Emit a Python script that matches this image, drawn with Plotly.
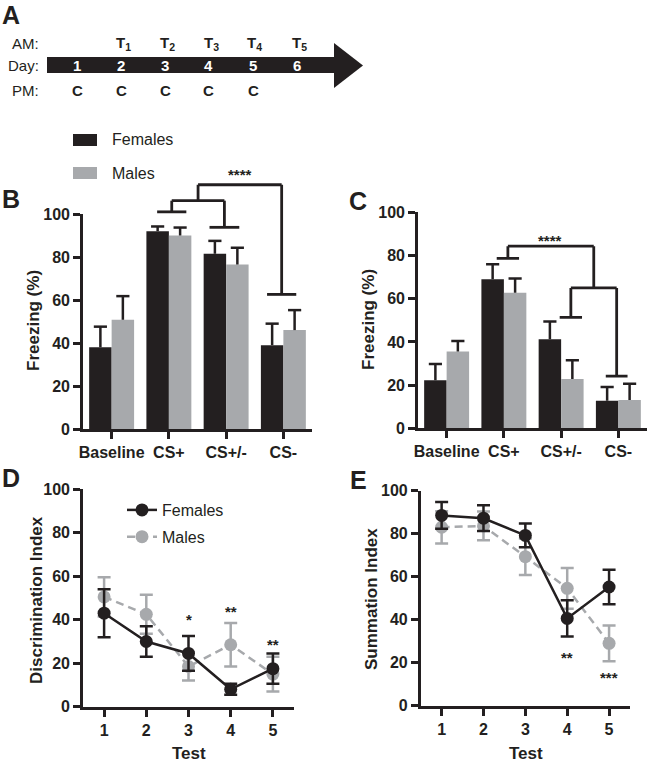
import plotly.graph_objects as go

W, H = 649, 762
BLACK = "#231f20"
GRAY = "#a7a9ac"
FONT = "Arial"

# ---------------- data ----------------
# Panel A timeline
days = [1, 2, 3, 4, 5, 6]
am_tests = [None, 1, 2, 3, 4, 5]
pm_cond = ["C", "C", "C", "C", "C", ""]

# Panels B / C (bar charts)
categories = ["Baseline", "CS+", "CS+/-", "CS-"]
b_fem = [38.0, 92.0, 81.5, 39.0]
b_fem_err = [9.6, 2.2, 6.0, 10.0]
b_male = [50.8, 90.0, 76.5, 46.0]
b_male_err = [11.0, 3.7, 7.8, 9.3]

c_fem = [22.2, 69.0, 41.2, 12.8]
c_fem_err = [7.6, 7.0, 8.2, 6.3]
c_male = [35.6, 62.8, 22.8, 13.1]
c_male_err = [4.8, 6.6, 8.7, 7.5]

# Panels D / E (line charts)
tests = [1, 2, 3, 4, 5]
d_fem = [43.0, 30.0, 24.5, 8.0, 17.5]
d_fem_err = [11.0, 7.0, 8.0, 2.5, 7.0]
d_male = [50.5, 42.5, 18.5, 28.5, 15.0]
d_male_err = [9.0, 9.0, 6.5, 10.0, 8.0]
d_stars = [(3, 41.4, "*"), (4, 45.2, "**"), (5, 30.2, "**")]

e_fem = [88.5, 87.2, 79.2, 40.6, 55.2]
e_fem_err = [6.2, 6.0, 5.5, 8.4, 8.0]
e_male = [83.0, 83.6, 69.3, 54.6, 29.0]
e_male_err = [7.5, 6.7, 8.5, 9.5, 8.3]
e_stars = [(4, 23.6, "**"), (5, 14.3, "***")]

# significance brackets (x in category units, y in % units)
# (x_left, x_right, y_top, y_left_bottom, y_right_bottom, cap_left_halfwidth, cap_right_halfwidth)
b_brackets = [
    (1.05, 1.97, 106.2, 101.0, 93.8, 0.255, 0.26),
    (1.51, 2.97, 113.6, 106.2, 62.6, 0.0, 0.255),
]
b_star = (2.25, 120.0, "****")
c_brackets = [
    (1.07, 2.57, 84.3, 78.7, 65.0, 0.195, 0.0),
    (2.17, 2.97, 65.0, 51.4, 24.2, 0.195, 0.19),
]
c_star = (1.80, 88.2, "****")

# ---------------- helpers ----------------
def px(x):
    return x / W


def py(y):
    return 1 - y / H


BAR_W = 0.3925
CAP = 0.115
idx = list(range(len(categories)))

fig = go.Figure()


def add_bars(xa, ya, fem, fem_err, male, male_err):
    fig.add_trace(go.Bar(x=idx, y=fem, width=BAR_W, offset=-BAR_W, marker=dict(color=BLACK, line=dict(width=0)),
                         xaxis=xa, yaxis=ya, showlegend=False, hoverinfo="skip"))
    fig.add_trace(go.Bar(x=idx, y=male, width=BAR_W, offset=0, marker=dict(color=GRAY, line=dict(width=0)),
                         xaxis=xa, yaxis=ya, showlegend=False, hoverinfo="skip"))
    xs, ys = [], []
    for i in idx:
        for xc, v, e in ((i - BAR_W / 2, fem[i], fem_err[i]), (i + BAR_W / 2, male[i], male_err[i])):
            xs += [xc, xc, None, xc - CAP, xc + CAP, None]
            ys += [v, v + e, None, v + e, v + e, None]
    fig.add_trace(go.Scatter(x=xs, y=ys, mode="lines", line=dict(color=BLACK, width=2.5),
                             xaxis=xa, yaxis=ya, showlegend=False, hoverinfo="skip", cliponaxis=False))


add_bars("x", "y", b_fem, b_fem_err, b_male, b_male_err)
add_bars("x2", "y2", c_fem, c_fem_err, c_male, c_male_err)


def add_lines(xa, ya, fem, fem_err, male, male_err, legend):
    fig.add_trace(go.Scatter(x=tests, y=male, mode="lines+markers", name="Males",
                             line=dict(color=GRAY, width=2.5, dash="8px,5px"),
                             marker=dict(size=13, color=GRAY),
                             error_y=dict(type="data", array=male_err, color=GRAY, thickness=2.5, width=6.5),
                             xaxis=xa, yaxis=ya, showlegend=legend, legendrank=2, legendgroup="m",
                             cliponaxis=False))
    fig.add_trace(go.Scatter(x=tests, y=fem, mode="lines+markers", name="Females",
                             line=dict(color=BLACK, width=2.5),
                             marker=dict(size=13, color=BLACK),
                             error_y=dict(type="data", array=fem_err, color=BLACK, thickness=2.5, width=6.5),
                             xaxis=xa, yaxis=ya, showlegend=legend, legendrank=1, legendgroup="f",
                             cliponaxis=False))


add_lines("x3", "y3", d_fem, d_fem_err, d_male, d_male_err, True)
add_lines("x4", "y4", e_fem, e_fem_err, e_male, e_male_err, False)

shapes = []
annotations = []

LW = 2.8


def seg(xref, yref, x0, y0, x1, y1, w=LW):
    shapes.append(dict(type="line", xref=xref, yref=yref, x0=x0, y0=y0, x1=x1, y1=y1,
                       line=dict(color=BLACK, width=w)))


def draw_brackets(brs, xref, yref, yconv):
    for xl, xr, yt, ylb, yrb, capl, capr in brs:
        seg(xref, yref, xl, yconv(ylb), xl, yconv(yt))
        seg(xref, yref, xl, yconv(yt), xr, yconv(yt))
        seg(xref, yref, xr, yconv(yt), xr, yconv(yrb))
        if capl:
            seg(xref, yref, xl - capl, yconv(ylb), xl + capl, yconv(ylb))
        if capr:
            seg(xref, yref, xr - capr, yconv(yrb), xr + capr, yconv(yrb))


B_YMAX = 100.0
draw_brackets(b_brackets, "x", "y domain", lambda v: v / B_YMAX)
draw_brackets(c_brackets, "x2", "y2", lambda v: v)


def bold(size, color=BLACK):
    return dict(family=FONT, size=size, color=color, weight="bold")


def ann(**kw):
    base = dict(showarrow=False, xanchor="center", yanchor="middle")
    base.update(kw)
    annotations.append(base)


ann(x=b_star[0], y=b_star[1] / B_YMAX, xref="x", yref="y domain", text=b_star[2], font=bold(15), yshift=-3)
ann(x=c_star[0], y=c_star[1], xref="x2", yref="y2", text=c_star[2], font=bold(15), yshift=-3)
for xv, yv, t in d_stars:
    ann(x=xv, y=yv, xref="x3", yref="y3", text=t, font=bold(15), yshift=-3)
for xv, yv, t in e_stars:
    ann(x=xv, y=yv, xref="x4", yref="y4", text=t, font=bold(15), yshift=-3)

# ---------------- panel A: timeline ----------------
shapes.append(dict(type="rect", xref="paper", yref="paper", x0=px(47), x1=px(335), y0=py(73), y1=py(57),
                   fillcolor=BLACK, line=dict(width=0), layer="below"))
shapes.append(dict(type="path", xref="paper", yref="paper",
                   path=f"M {px(334)},{py(43)} L {px(363)},{py(65.5)} L {px(334)},{py(88)} Z",
                   fillcolor=BLACK, line=dict(width=0), layer="below"))
for lab, yy in (("AM:", 43), ("Day:", 65), ("PM:", 90)):
    ann(x=px(41), y=py(yy), xref="paper", yref="paper", text=lab, xanchor="right",
        font=dict(family=FONT, size=15, color=BLACK))
for d, t, c in zip(days, am_tests, pm_cond):
    xc = 77 + 44 * (d - 1)
    ann(x=px(xc), y=py(65), xref="paper", yref="paper", text=str(d), font=bold(15, "#ffffff"))
    if t is not None:
        ann(x=px(xc + 2), y=py(44), xref="paper", yref="paper", text=f"T<sub>{t}</sub>", font=bold(15))
    if c:
        ann(x=px(xc), y=py(90), xref="paper", yref="paper", text=c, font=bold(15))

# ---------------- panel letters ----------------
for lab, xx, yy in (("A", 11, 15), ("B", 11, 199), ("C", 358, 201), ("D", 11, 478), ("E", 358, 480)):
    ann(x=px(xx), y=py(yy), xref="paper", yref="paper", text=lab, font=bold(25))

# ---------------- B legend (manual) ----------------
for lab, col, yy in (("Females", BLACK, 140), ("Males", GRAY, 173)):
    shapes.append(dict(type="rect", xref="paper", yref="paper", x0=px(73), x1=px(97), y0=py(yy + 6),
                       y1=py(yy - 6), fillcolor=col, line=dict(width=0)))
    ann(x=px(110), y=py(yy), xref="paper", yref="paper", text=lab, xanchor="left",
        font=dict(family=FONT, size=16, color=BLACK))

# ---------------- axis titles ----------------
for lab, xx, yy in (("Freezing (%)", 34, 321), ("Freezing (%)", 368, 320),
                    ("Discrimination Index", 36, 600), ("Summation Index", 371, 599)):
    ann(x=px(xx), y=py(yy), xref="paper", yref="paper", text=lab, textangle=-90, font=bold(17))
for xx in (188.5, 525.5):
    ann(x=px(xx), y=py(753), xref="paper", yref="paper", text="Test", font=bold(17))

tickfont = bold(16)
axis_common = dict(showline=True, linewidth=2.6, linecolor=BLACK, ticks="outside", ticklen=7, tickwidth=2.6,
                   tickcolor=BLACK, showgrid=False, zeroline=False, tickfont=tickfont, fixedrange=True,
                   automargin=False)

yticks = [0, 20, 40, 60, 80, 100]

fig.update_layout(
    template="none",
    width=W, height=H, autosize=False,
    margin=dict(l=0, r=0, t=0, b=0, pad=0, autoexpand=False),
    paper_bgcolor="white", plot_bgcolor="white",
    barmode="overlay",
    shapes=shapes, annotations=annotations,
    xaxis=dict(domain=[px(83), px(312)], range=[-0.5, 3.5], tickvals=idx, ticktext=categories, anchor="y",
               **axis_common),
    yaxis=dict(domain=[py(429), py(214)], range=[0, B_YMAX], tickvals=yticks, anchor="x", **axis_common),
    xaxis2=dict(domain=[px(418), px(647)], range=[-0.5, 3.5], tickvals=idx, ticktext=categories, anchor="y2",
                **axis_common),
    yaxis2=dict(domain=[py(428.3), py(212.3)], range=[0, 100], tickvals=yticks, anchor="x2", **axis_common),
    xaxis3=dict(domain=[px(83), px(294)], range=[0.5, 5.5], tickvals=tests, anchor="y3", **axis_common),
    yaxis3=dict(domain=[py(706.7), py(489.3)], range=[0, 100], tickvals=yticks, anchor="x3", **axis_common),
    xaxis4=dict(domain=[px(420.7), px(630)], range=[0.5, 5.5], tickvals=tests, anchor="y4", **axis_common),
    yaxis4=dict(domain=[py(705.7), py(490.7)], range=[0, 100], tickvals=yticks, anchor="x4", **axis_common),
    legend=dict(x=px(122), y=py(493), xanchor="left", yanchor="top", bgcolor="rgba(0,0,0,0)",
                font=dict(family=FONT, size=16, color=BLACK), tracegroupgap=3, itemclick=False),
    showlegend=True,
)

fig.write_html(
    "out.html",
    config={"displayModeBar": False},
    post_script="document.body.style.margin='0px';document.body.style.padding='0px';"
                "document.body.style.overflow='hidden';",
)
